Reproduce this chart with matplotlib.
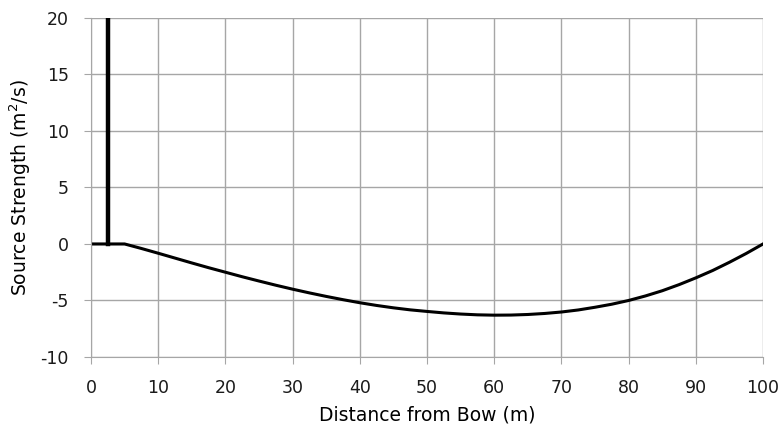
import matplotlib
matplotlib.use('Agg')
import matplotlib.pyplot as plt
import numpy as np

# source strength distribution along the hull
x_curve = [0, 2.6, 5, 7.5, 10, 12.5, 15, 17.5, 20, 22.5, 25, 27.5, 30, 32.5, 35, 37.5,
           40, 42.5, 45, 47.5, 50, 52.5, 55, 57.5, 60, 62.5, 65, 67.5, 70, 72.5,
           75, 77.5, 80, 82.5, 85, 87.5, 90, 92.5, 95, 97.5, 100]
y_curve = [0, 0, 0, -0.4, -0.82, -1.25, -1.68, -2.1, -2.5, -2.9, -3.28, -3.65, -4.0, -4.33, -4.64, -4.93,
           -5.2, -5.44, -5.65, -5.83, -5.97, -6.1, -6.2, -6.27, -6.3, -6.29, -6.24, -6.15, -6.02, -5.84,
           -5.6, -5.33, -5.0, -4.6, -4.14, -3.6, -3.0, -2.35, -1.62, -0.84, 0]

# point source near the bow (goes off the top of the chart)
x_spike = [2.6, 2.6]
y_spike = [0, 40]

plt.rcParams['font.family'] = 'DejaVu Sans'
plt.rcParams['axes.unicode_minus'] = False

fig = plt.figure(figsize=(7.81, 4.26), dpi=100)
ax = fig.add_axes([0.1165, 0.162, 0.8605, 0.796])

ax.plot(x_curve, y_curve, color='black', lw=2.2, solid_joinstyle='round')
ax.plot(x_spike, y_spike, color='black', lw=3.2)

ax.set_xlim(0, 100)
ax.set_ylim(-10, 20)
ax.set_xticks(np.arange(0, 101, 10))
ax.set_yticks(np.arange(-10, 21, 5))
ax.grid(True, color='#a6a6a6', lw=1)
ax.set_axisbelow(True)
for s in ['top', 'right']:
    ax.spines[s].set_visible(False)
for s in ['left', 'bottom']:
    ax.spines[s].set_color('#a6a6a6')
ax.tick_params(colors='#a6a6a6', labelcolor='#1a1a1a', labelsize=12.5, length=5)
ax.tick_params(axis='y', pad=11)
ax.tick_params(axis='x', pad=11)

ax.set_xlabel('Distance from Bow (m)', fontsize=13.5, color='black', labelpad=6)
ax.set_ylabel('Source Strength (m$^2$/s)', fontsize=13.5, color='black', labelpad=5)

fig.savefig('out.png', dpi=100)
